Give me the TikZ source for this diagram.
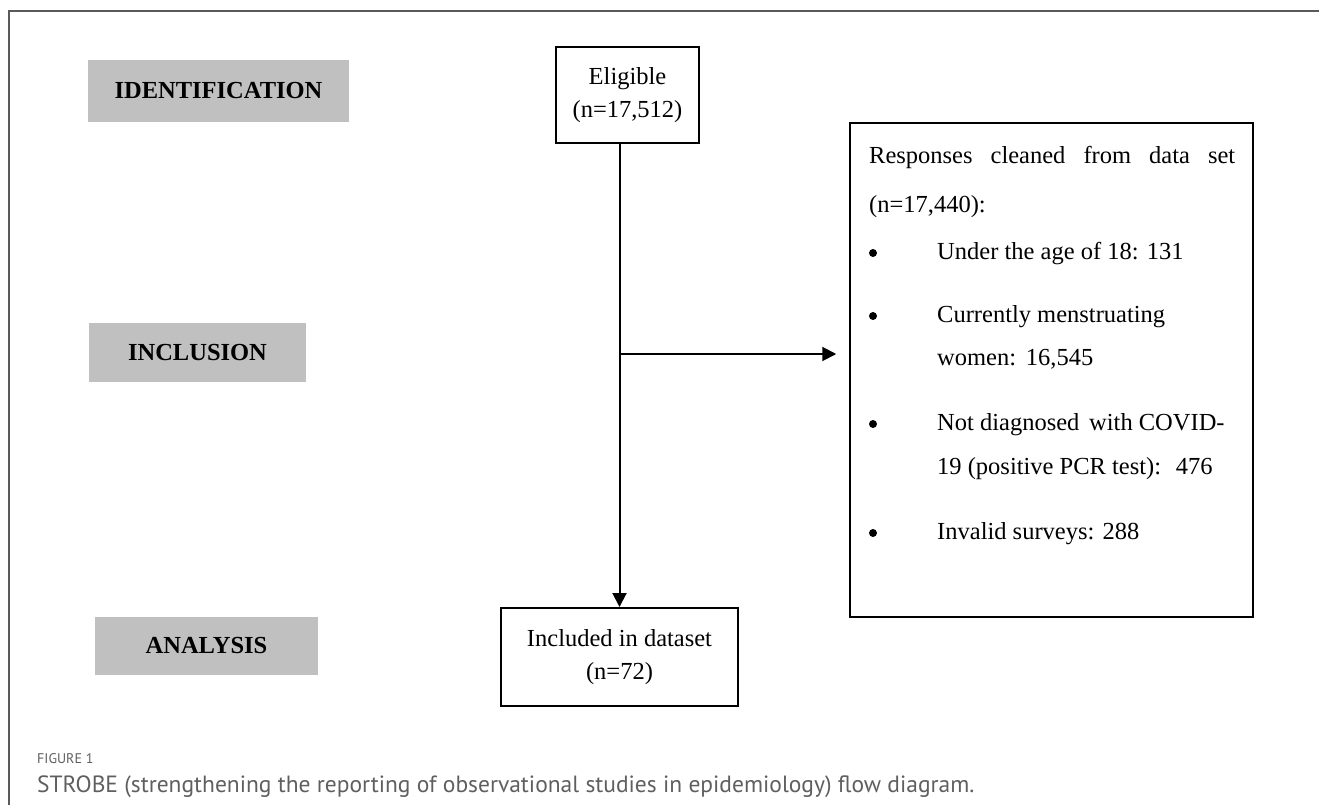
\documentclass[tikz,border=0pt]{standalone}
\usepackage{fontspec}
\setmainfont{Liberation Serif}
\newfontfamily\capfont{PT Sans}
\usetikzlibrary{arrows.meta}
\definecolor{phasegray}{RGB}{192,192,192}
\definecolor{capgray}{RGB}{95,95,95}
\definecolor{framegray}{RGB}{90,90,90}
\tikzset{
  phase/.style={fill=phasegray, inner sep=0pt, font=\fontsize{24.5}{29}\selectfont\bfseries},
  flowbox/.style={draw, line width=2pt, inner sep=0pt, align=center, font=\fontsize{24.5}{33}\selectfont},
  txt/.style={anchor=base west, inner sep=0pt, font=\fontsize{24.5}{29}\selectfont},
  dot/.style={circle, fill, inner sep=0pt, minimum size=8pt},
  flow/.style={line width=2pt, -{Triangle[length=14pt, width=14pt]}},
}
\begin{document}
\begin{tikzpicture}[x=1pt, y=-1pt]
      \useasboundingbox (0,0) rectangle (1319,805);
      \draw[framegray, line width=1.5pt] (9,805) -- (9,11) -- (1319,11);
      % phases
      \node[phase, minimum width=261pt, minimum height=62pt] (ident) at (218.5,91) {IDENTIFICATION};
      \node[phase, minimum width=217pt, minimum height=59pt] (inclu) at (197.5,352.5) {INCLUSION};
      \node[phase, minimum width=223pt, minimum height=58pt] (anal) at (206.5,646) {ANALYSIS};
      % boxes
      \node[flowbox, minimum width=143pt, minimum height=96pt] (elig) at (627.5,95) {Eligible\\(n=17,512)};
      \node[flowbox, minimum width=237pt, minimum height=98pt] (incl) at (619.5,657) {Included in dataset\\(n=72)};
      \node[draw, line width=1.5pt, minimum width=403pt, minimum height=494pt] (resp) at (1051.5,370) {};
      % excluded list
      \node[txt] (r1) at (869,164) {\makebox[366pt][s]{Responses\hfill cleaned\hfill from\hfill data\hfill set}};
      \node[txt] (r2) at (869,212) {(n=17,440):};
      \node[dot] (b1) at (873,253) {};
      \node[txt] (r3) at (937,259) {Under the age of 18: 131};
      \node[dot] (b2) at (873,316) {};
      \node[txt] (r4) at (937,322) {Currently menstruating};
      \node[txt] (r5) at (937,365) {women:\hspace{0.4em}16,545};
      \node[dot] (b3) at (873,424) {};
      \node[txt] (r6) at (937,430) {Not diagnosed\hspace{0.4em}with COVID-};
      \node[txt] (r7) at (937,474) {19 (positive PCR test):\hspace{0.6em}476};
      \node[dot] (b4) at (873,533) {};
      \node[txt] (r8) at (937,539) {Invalid surveys: 288};
      \coordinate (fork) at (619.5,354);
      \begin{scope}[flow]
        \draw (elig.south -| incl.north) to (incl.north);
        \draw[shorten >=13pt] (fork) to (fork -| resp.west);
      \end{scope}
      % caption
      \node[anchor=base west, inner sep=0pt, text=capgray, font=\capfont\fontsize{14}{17}\selectfont] (figno) at (37,763) {FIGURE 1};
      \node[anchor=base west, inner sep=0pt, text=capgray, font=\capfont\fontsize{23.5}{27}\selectfont] (figcap) at (37,792) {STROBE (strengthening the reporting of observational studies in epidemiology) flow diagram.};
    \end{tikzpicture}
\end{document}
